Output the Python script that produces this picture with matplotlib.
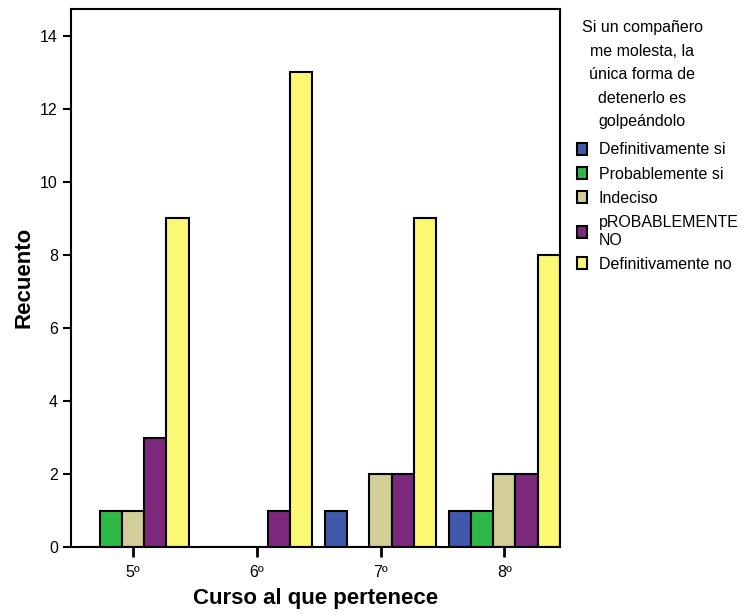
import numpy as np
import matplotlib.pyplot as plt

plt.rcParams['font.family'] = ['Liberation Sans', 'DejaVu Sans']

cursos = ['5º', '6º', '7º', '8º']
respuestas = ['Definitivamente si', 'Probablemente si', 'Indeciso',
              'pROBABLEMENTE\nNO', 'Definitivamente no']
recuento = {
    'Definitivamente si': [0, 0, 1, 1],
    'Probablemente si': [1, 0, 0, 1],
    'Indeciso': [1, 0, 2, 2],
    'pROBABLEMENTE\nNO': [3, 1, 2, 2],
    'Definitivamente no': [9, 13, 9, 8],
}
colores = ['#3E58AC', '#2EB848', '#D3CE97', '#7C287D', '#FBF873']
titulo_leyenda = 'Si un compañero\nme molesta, la\núnica forma de\ndetenerlo es\ngolpeándolo'

fig = plt.figure(figsize=(7.43, 6.14), dpi=100)
ax = fig.add_axes([0.0956, 0.1091, 0.6581, 0.8769])

x = np.arange(len(cursos))
ancho = 0.18
handles = []
for i, r in enumerate(respuestas):
    b = ax.bar(x + (i - 2) * ancho, recuento[r], width=ancho, color=colores[i],
               edgecolor='black', linewidth=1.5, label=r)
    handles.append(b)

ax.set_xlim(-0.5, 3.45)
ax.set_ylim(0, 14.75)
ax.set_xticks(x)
ax.set_xticklabels(cursos, fontsize=11.5)
ax.set_yticks(range(0, 15, 2))
ax.tick_params(axis='y', labelsize=11.5, length=6, width=1.5)
ax.tick_params(axis='x', length=7, width=2, pad=6)
for s in ax.spines.values():
    s.set_linewidth(1.5)

ax.set_xlabel('Curso al que pertenece', fontsize=16, fontweight='bold', labelpad=6)
ax.set_ylabel('Recuento', fontsize=16, fontweight='bold', labelpad=4)

# titulo de la leyenda como texto aparte para centrarlo igual que SPSS
fig.text(642 / 743, 1 - 20 / 614, titulo_leyenda, ha='center', va='top',
         multialignment='center', fontsize=11.5, linespacing=1.71)

leg = fig.legend(handles=handles, labels=respuestas,
                 loc='upper left', bbox_to_anchor=(0.768, 1 - 136 / 614), frameon=False,
                 fontsize=11.5, handlelength=0.65, handleheight=0.8,
                 handletextpad=0.7, labelspacing=0.58, borderaxespad=0)

fig.savefig('out.png', dpi=100)
